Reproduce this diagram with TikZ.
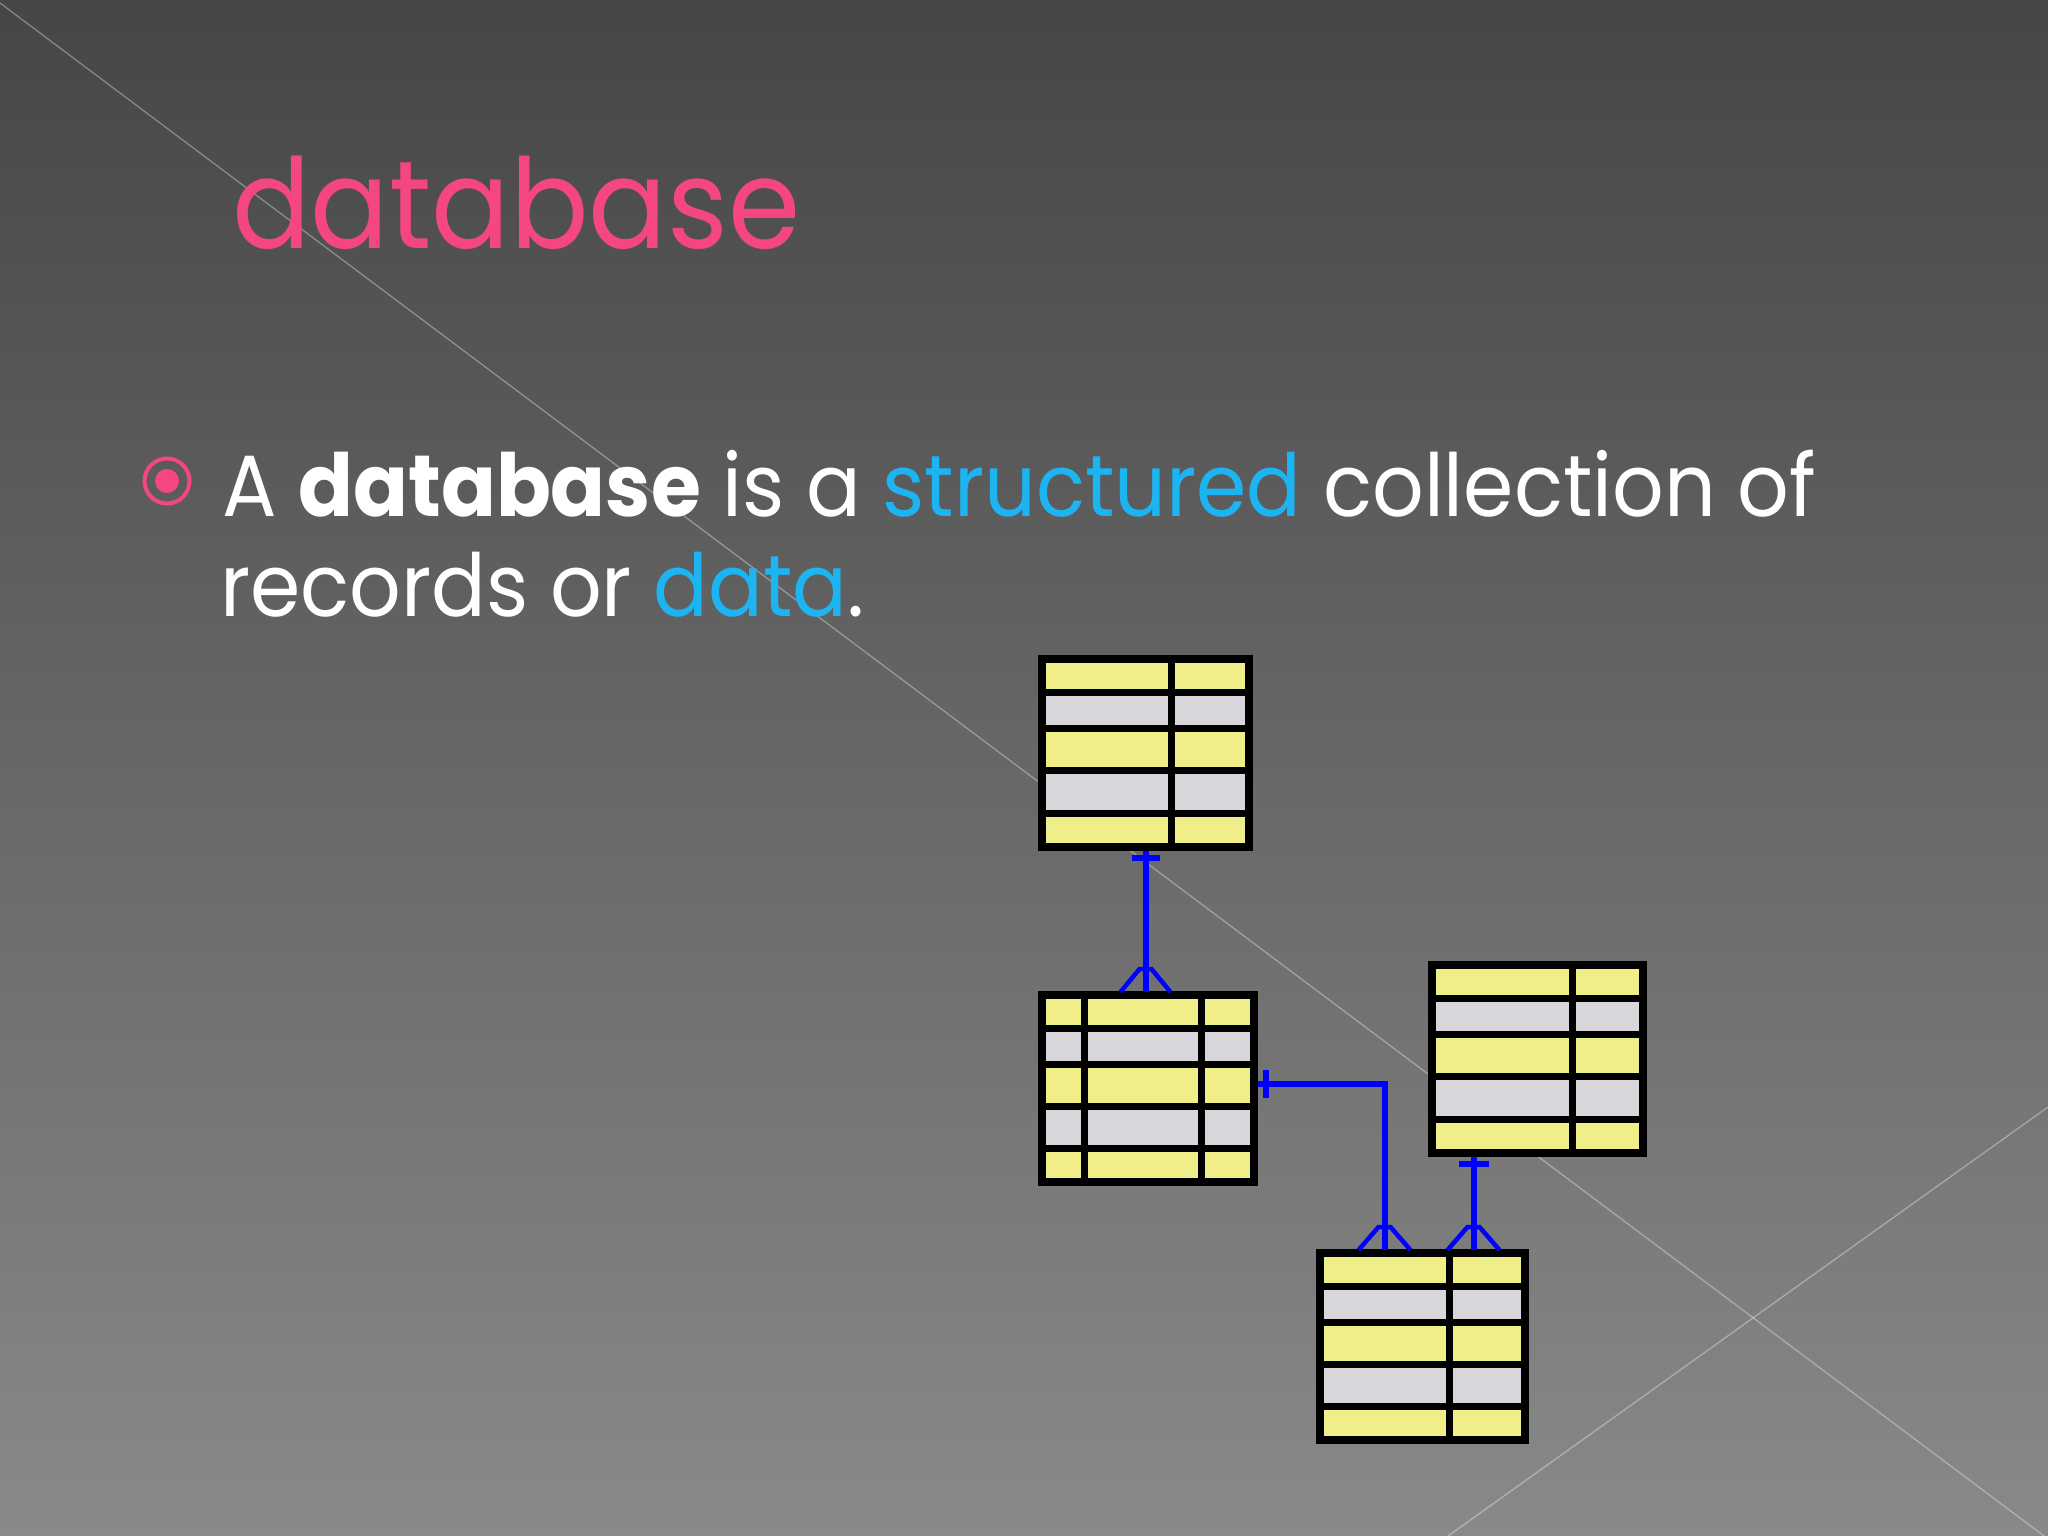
\documentclass[tikz,border=0pt]{standalone}
\usepackage{fontspec}
\setmainfont{Poppins}[FakeStretch=0.93]
\usepackage{xcolor}
\usepackage{tikz}

\definecolor{bgtop}{RGB}{70,70,71}
\definecolor{bgbot}{RGB}{138,137,138}
\definecolor{hotpink}{RGB}{243,70,130}
\definecolor{sky}{RGB}{28,181,242}
\definecolor{rowyel}{RGB}{240,238,136}
\definecolor{rowgry}{RGB}{216,214,218}

\newcommand{\dbtable}[6]{%
  \foreach \ya/\yb/\rowc in {0/.18/rowyel,.18/.37/rowgry,.37/.595/rowyel,.595/.82/rowgry,.82/1/rowyel}
    \fill[\rowc] (#2,{#3+\ya*(#5-#3)}) rectangle (#4,{#3+\yb*(#5-#3)});
  \foreach \yy in {.18,.37,.595,.82}
    \draw[grid] (#2,{#3+\yy*(#5-#3)}) -- (#4,{#3+\yy*(#5-#3)});
  \foreach \xx in {#6}
    \draw[grid] (\xx,#3) -- (\xx,#5);
  \node[tbl, minimum width={#4-#2}, minimum height={#5-#3}] (#1) at ({(#2+#4)/2},{(#3+#5)/2}) {};
}

\begin{document}
\begin{tikzpicture}[
  x=1pt, y=-1pt,
  grid/.style={line width=7pt, black},
  tbl/.style={draw=black, line width=7.5pt, inner sep=0pt, outer sep=0pt},
  rel/.style={line width=6pt, blue, shorten <=3.5pt, shorten >=3.5pt},
  bar/.style={line width=6pt, blue},
  crow/.style={line width=4.5pt, blue},
  deco/.style={line width=1.3pt, white, opacity=0.35},
  txt/.style={inner sep=0pt, anchor=base west, text=white},
]

\useasboundingbox (0,0) rectangle (2048,1536);
\shade [top color=bgtop, bottom color=bgbot] (0,0) rectangle (2048,1536);
\draw [deco] (0,3) -- (2048,1539);
\draw [deco] (2048,1107) -- (1448,1536);

\node [txt, text=hotpink, font=\fontsize{125}{140}\selectfont] (title) at (232,248) {database};

\node [circle, draw=hotpink, line width=4pt, minimum size=45pt, inner sep=0pt] (bul) at (167,481) {};
\fill [hotpink] (bul) circle [radius=12];

\node [txt, font=\fontsize{87}{100}\selectfont] (line1) at (222,516)
  {A \textbf{database} is a \textcolor{sky}{structured} collection of};
\node [txt, font=\fontsize{87}{100}\selectfont] (line2) at (220,616)
  {records or \textcolor{sky}{data}.};

\dbtable{ttop}{1042}{659}{1249}{847}{1171.5}
\dbtable{tmid}{1042}{995}{1254}{1182}{1084,1201}
\dbtable{tright}{1432}{965}{1643}{1153}{1572}
\dbtable{tlow}{1320}{1253}{1525}{1440}{1449}

\coordinate (m1) at (ttop.south |- tmid.north);
\draw [rel] (ttop.south) -- (m1);
\draw [bar] ([xshift=-14pt,yshift=-11pt]ttop.south) -- ([xshift=14pt,yshift=-11pt]ttop.south);
\draw [crow] ([xshift=-25pt,yshift=3pt]m1) -- ([xshift=-6pt,yshift=26pt]m1)
  -- ([xshift=6pt,yshift=26pt]m1) -- ([xshift=25pt,yshift=3pt]m1);

\coordinate (m2) at ([xshift=-38pt]tlow.north);
\draw [rel] ([yshift=5pt]tmid.east) -| (m2);
\draw [bar] ([xshift=12pt,yshift=19pt]tmid.east) -- ([xshift=12pt,yshift=-9pt]tmid.east);
\draw [crow] ([xshift=-26pt,yshift=3pt]m2) -- ([xshift=-6pt,yshift=26pt]m2)
  -- ([xshift=6pt,yshift=26pt]m2) -- ([xshift=26pt,yshift=3pt]m2);

\coordinate (m3a) at ([xshift=-64pt]tright.south);
\coordinate (m3b) at (m3a |- tlow.north);
\draw [rel] (m3a) -- (m3b);
\draw [bar] ([xshift=-15pt,yshift=-11pt]m3a) -- ([xshift=15pt,yshift=-11pt]m3a);
\draw [crow] ([xshift=-26pt,yshift=3pt]m3b) -- ([xshift=-6pt,yshift=26pt]m3b)
  -- ([xshift=6pt,yshift=26pt]m3b) -- ([xshift=26pt,yshift=3pt]m3b);

\end{tikzpicture}
\end{document}
